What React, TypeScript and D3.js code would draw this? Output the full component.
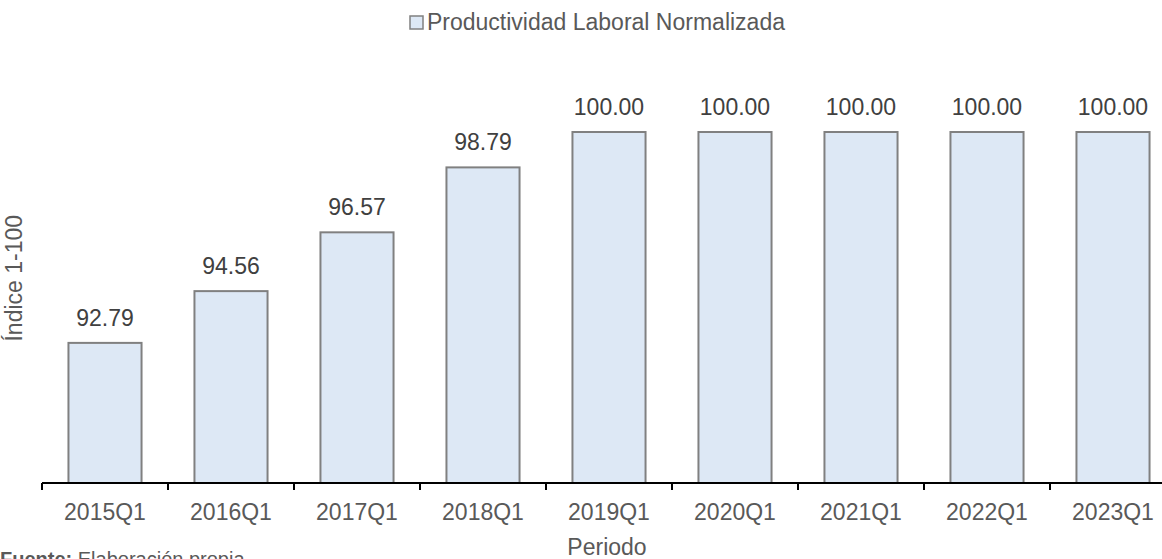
import React from "react";
import * as d3 from "d3";

const periods = ["2015Q1", "2016Q1", "2017Q1", "2018Q1", "2019Q1", "2020Q1", "2021Q1", "2022Q1", "2023Q1"];
const productividad = [92.79, 94.56, 96.57, 98.79, 100.0, 100.0, 100.0, 100.0, 100.0];
const seriesName = "Productividad Laboral Normalizada";
const yDomain = [88, 100];

const W = 1162;
const H = 559;
const font = "'Liberation Sans', Arial, sans-serif";
const fs = 23;

export default function App() {
  const x = d3
    .scaleBand()
    .domain(periods)
    .range([42, 1176])
    .paddingInner(0.42)
    .paddingOuter(0.21);

  const y = d3.scaleLinear().domain(yDomain).range([483, 132]);

  const step = x.step();
  const tickXs = periods.map((p) => (x(p) as number) - (step * 0.42) / 2);
  tickXs.push(tickXs[tickXs.length - 1] + step);

  const base = y(yDomain[0]);

  return (
    <svg
      width={W}
      height={H}
      style={{ position: "absolute", left: 0, top: 0, background: "#fff" }}
      fontFamily={font}
    >
      {/* legend */}
      <rect x={410} y={16} width={13} height={13} fill="#DDE8F5" stroke="#808080" strokeWidth={1.5} />
      <text x={427} y={30} fontSize={fs} fill="#595959">
        {seriesName}
      </text>

      {/* bars */}
      {periods.map((p, i) => (
        <g key={p}>
          <rect
            x={x(p)}
            y={y(productividad[i])}
            width={x.bandwidth()}
            height={base - y(productividad[i])}
            fill="#DDE8F5"
            stroke="#808080"
            strokeWidth={2}
          />
          <text
            x={(x(p) as number) + x.bandwidth() / 2}
            y={y(productividad[i]) - 17}
            textAnchor="middle"
            fontSize={fs}
            fill="#404040"
          >
            {productividad[i].toFixed(2)}
          </text>
          <text
            x={(x(p) as number) + x.bandwidth() / 2}
            y={base + 37}
            textAnchor="middle"
            fontSize={fs}
            fill="#595959"
          >
            {p}
          </text>
        </g>
      ))}

      {/* x axis */}
      <line x1={42} x2={W} y1={base} y2={base} stroke="#000" strokeWidth={2} />
      {tickXs.map((t, i) => (
        <line key={i} x1={t} x2={t} y1={base} y2={base + 7} stroke="#000" strokeWidth={2} />
      ))}

      {/* axis titles */}
      <text
        transform={`translate(22,${(y(102) + base) / 2}) rotate(-90)`}
        textAnchor="middle"
        fontSize={fs}
        fill="#595959"
      >
        Índice 1-100
      </text>
      <text x={607} y={555} textAnchor="middle" fontSize={fs} fill="#595959">
        Periodo
      </text>

      {/* source */}
      <text x={0} y={566} fontSize={20} fill="#595959">
        <tspan fontWeight="bold">Fuente:</tspan> Elaboración propia
      </text>
    </svg>
  );
}
